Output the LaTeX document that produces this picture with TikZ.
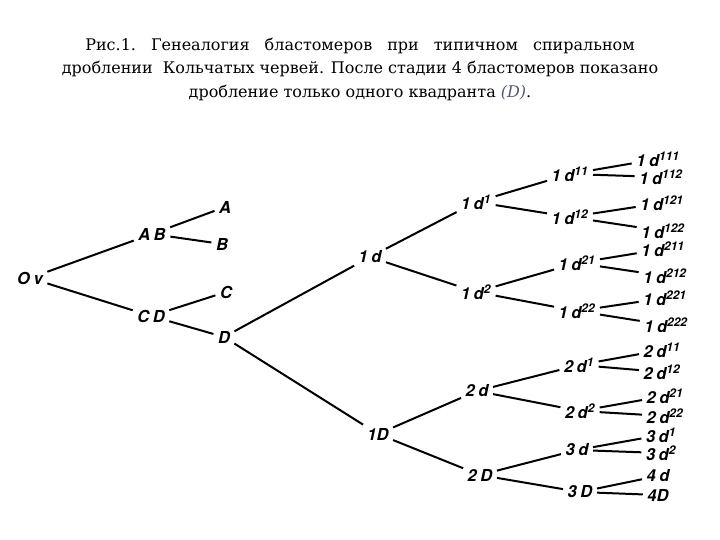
\documentclass[tikz,border=0pt]{standalone}
\usepackage{fontspec}
\setmainfont{DejaVu Serif}
\newfontfamily\cellfont{TeX Gyre Heros}
\definecolor{capgray}{RGB}{80,90,120}

\tikzset{
  cell/.style={font=\cellfont\bfseries\itshape\fontsize{16.5}{16.5}\selectfont, inner sep=2.5pt},
  split/.style={line width=2pt, shorten <=2pt, shorten >=2pt},
}
\newcommand{\ix}[1]{\textsuperscript{\fontsize{12}{12}\selectfont #1}}
\newcommand{\gp}{\hspace{3.5pt}}
\newcommand{\wsp}{\hspace{15pt}}

\begin{document}
\begin{tikzpicture}[x=1pt,y=-1pt]
    \useasboundingbox (0,0) rectangle (720,540);

    \node[align=center, font=\fontsize{16}{23.5}\selectfont] (caption) at (360,69)
        {Рис.1.\wsp Генеалогия\wsp бластомеров\wsp при\wsp типичном\wsp спиральном\\
         дроблении\ \ Кольчатых червей. После стадии 4 бластомеров показано\\
         дробление только одного квадранта \textcolor{capgray}{\textit{(D)}}.};

    % first divisions
    \node[cell] (ov) at (30,278) {O\gp v};
    \node[cell] (ab) at (152,234) {A\gp B};
    \node[cell] (cd) at (151,316) {C\gp D};
    \node[cell] (a) at (225,207) {A};
    \node[cell] (b) at (222,244) {B};
    \node[cell] (c) at (226,292) {C};
    \node[cell] (d) at (224,337) {D};

    % quadrant D
    \node[cell] (d1) at (370,257) {1\gp d};
    \node[cell] (D1) at (378,434) {1D};

    \node[cell] (d1a) at (476,202) {1\gp d\ix{1}};
    \node[cell] (d1b) at (476,292) {1\gp d\ix{2}};
    \node[cell] (d2) at (477,391) {2\gp d};
    \node[cell] (D2) at (480,475) {2\gp D};

    \node[cell] (d11) at (570,174) {1\gp d\ix{11}};
    \node[cell] (d12) at (570,217) {1\gp d\ix{12}};
    \node[cell] (d21) at (577,263) {1\gp d\ix{21}};
    \node[cell] (d22) at (577,311) {1\gp d\ix{22}};
    \node[cell] (e1) at (579,365) {2\gp d\ix{1}};
    \node[cell] (e2) at (580,411) {2\gp d\ix{2}};
    \node[cell] (d3) at (577,450) {3\gp d};
    \node[cell] (D3) at (580,492) {3\gp D};

    \node[cell] (d111) at (658,159) {1\gp d\ix{111}};
    \node[cell] (d112) at (661,177) {1\gp d\ix{112}};
    \node[cell] (d121) at (662,203) {1\gp d\ix{121}};
    \node[cell] (d122) at (663,231) {1\gp d\ix{122}};
    \node[cell] (d211) at (663,249) {1\gp d\ix{211}};
    \node[cell] (d212) at (665,276) {1\gp d\ix{212}};
    \node[cell] (d221) at (665,298) {1\gp d\ix{221}};
    \node[cell] (d222) at (666,325) {1\gp d\ix{222}};
    \node[cell] (e11) at (662,350) {2\gp d\ix{11}};
    \node[cell] (e12) at (662,372) {2\gp d\ix{12}};
    \node[cell] (e21) at (665,396) {2\gp d\ix{21}};
    \node[cell] (e22) at (665,416) {2\gp d\ix{22}};
    \node[cell] (f1) at (661,435) {3\gp d\ix{1}};
    \node[cell] (f2) at (661,453) {3\gp d\ix{2}};
    \node[cell] (d4) at (658,476) {4\gp d};
    \node[cell] (D4) at (658,495) {4D};

    \draw[split] (ov) -- (ab);
    \draw[split] (ov) -- (cd);
    \draw[split] (ab) -- (a);
    \draw[split] (ab) -- (b);
    \draw[split] (cd) -- (c);
    \draw[split] (cd) -- (d);
    \draw[split] (d) -- (d1);
    \draw[split] (d) -- (D1);

    \draw[split] (d1) -- (d1a);
    \draw[split] (d1) -- (d1b);
    \draw[split] (D1) -- (d2);
    \draw[split] (D1) -- (D2);

    \draw[split] (d1a) -- (d11);
    \draw[split] (d1a) -- (d12);
    \draw[split] (d1b) -- (d21);
    \draw[split] (d1b) -- (d22);
    \draw[split] (d2) -- (e1);
    \draw[split] (d2) -- (e2);
    \draw[split] (D2) -- (d3);
    \draw[split] (D2) -- (D3);

    \draw[split] (d11) -- (d111);
    \draw[split] (d11) -- (d112);
    \draw[split] (d12) -- (d121);
    \draw[split] (d12) -- (d122);
    \draw[split] (d21) -- (d211);
    \draw[split] (d21) -- (d212);
    \draw[split] (d22) -- (d221);
    \draw[split] (d22) -- (d222);
    \draw[split] (e1) -- (e11);
    \draw[split] (e1) -- (e12);
    \draw[split] (e2) -- (e21);
    \draw[split] (e2) -- (e22);
    \draw[split] (d3) -- (f1);
    \draw[split] (d3) -- (f2);
    \draw[split] (D3) -- (d4);
    \draw[split] (D3) -- (D4);
\end{tikzpicture}
\end{document}
